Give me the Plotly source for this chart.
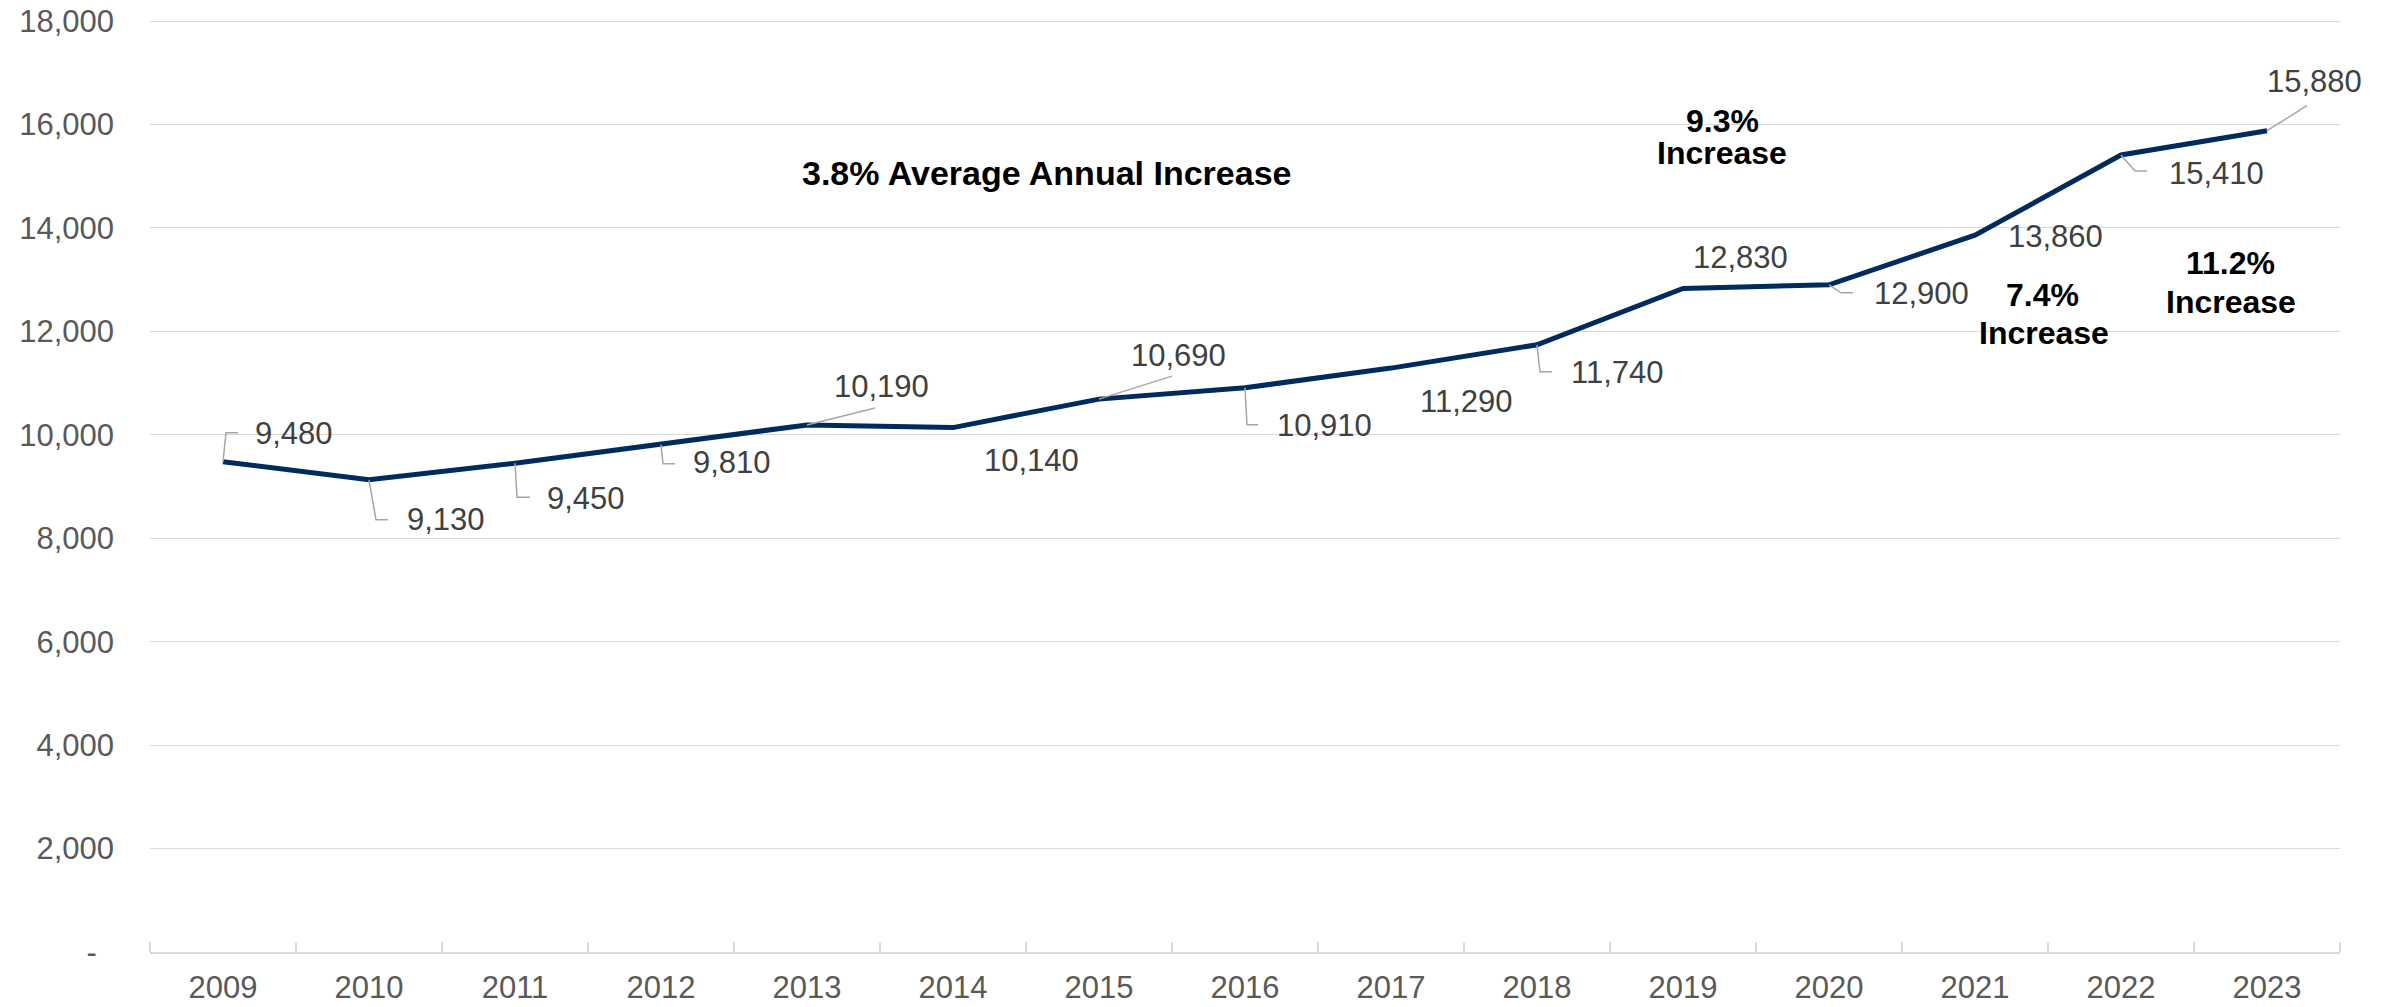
import plotly.graph_objects as go

# ---- data ----
years = ["2009", "2010", "2011", "2012", "2013", "2014", "2015", "2016",
         "2017", "2018", "2019", "2020", "2021", "2022", "2023"]
values = [9480, 9130, 9450, 9810, 10190, 10140, 10690, 10910,
          11290, 11740, 12830, 12900, 13860, 15410, 15880]
y_tick_vals = [0, 2000, 4000, 6000, 8000, 10000, 12000, 14000, 16000, 18000]
y_tick_text = ["-\u00a0\u00a0", "2,000", "4,000", "6,000", "8,000", "10,000",
               "12,000", "14,000", "16,000", "18,000"]

# ---- styling / label placement (pixel offsets from each point) ----
label_dx = [71, 77, 71, 71, 74, 78, 79, 79, 75, 80, 57, 92, 80, 95, 47]
label_dy = [28, -40, -35, -18, 38, -33, 44, -38, -33, -28, 31, -9, -1, -18, 49]
leaders = ["M0,0 L3,29 L15,29", "M0,0 L7,-40 L19,-40", "M0,0 L2,-34 L15,-34",
           "M0,0 L2,-19 L14,-19", "M0,0 L68,17", None, "M0,0 L73,23",
           "M0,0 L2,-37 L13,-37", None, "M0,0 L3,-27 L15,-27", None,
           "M0,0 L12,-8 L24,-8", None, "M0,0 L14,-16 L26,-16", "M0,0 L40,25"]

FONT = "Arial, Liberation Sans, Helvetica, sans-serif"
NAVY = "#002B5C"
GRID = "#D9D9D9"

xs = list(range(len(years)))

fig = go.Figure()
fig.add_trace(go.Scatter(x=xs, y=values, mode="lines",
                         line=dict(color=NAVY, width=5),
                         hoverinfo="skip", showlegend=False))

annotations = []
shapes = []
for i, v in enumerate(values):
    annotations.append(dict(x=xs[i], y=v, xref="x", yref="y", text=f"{v:,}",
                            showarrow=False, xanchor="center", yanchor="middle",
                            xshift=label_dx[i], yshift=label_dy[i],
                            font=dict(family=FONT, size=31, color="#404040")))
    if leaders[i]:
        shapes.append(dict(type="path", xref="x", yref="y",
                           xsizemode="pixel", ysizemode="pixel",
                           xanchor=xs[i], yanchor=v, path=leaders[i],
                           line=dict(color="#A6A6A6", width=1.5), layer="above"))

bold_notes = [
    ("3.8% Average Annual Increase", 5.64, 15072, 34),
    ("9.3%", 10.27, 16064, 32), ("Increase", 10.27, 15445, 32),
    ("7.4%", 12.46, 12695, 32), ("Increase", 12.47, 11960, 32),
    ("11.2%", 13.75, 13319, 32), ("Increase", 13.75, 12565, 32),
]
for txt, xi, yv, fs in bold_notes:
    annotations.append(dict(x=xi, y=yv, xref="x", yref="y", text=f"<b>{txt}</b>",
                            showarrow=False, xanchor="center", yanchor="middle",
                            font=dict(family=FONT, size=fs, color="#000000")))

n = len(years)
# margins compensate for the page's default 8px body margin;
# the y range is padded by ~2px so the top gridline is drawn
fig.update_layout(
    width=2397, height=1007,
    margin=dict(l=142, r=65, t=11, b=63, pad=0, autoexpand=False),
    paper_bgcolor="white", plot_bgcolor="white",
    showlegend=False,
    annotations=annotations, shapes=shapes,
    xaxis=dict(type="linear", range=[-0.5, n - 0.5], tickmode="array",
               tickvals=xs, ticktext=years, ticks="", tickangle=0,
               minor=dict(tick0=-0.5, dtick=1, ticks="inside", ticklen=10,
                          tickcolor=GRID, tickwidth=1.5, showgrid=False),
               showline=True, linecolor=GRID, linewidth=1.5,
               showgrid=False, zeroline=False, automargin=False,
               ticklabeloverflow="allow",
               tickfont=dict(family=FONT, size=31, color="#595959"),
               ticklabelstandoff=7),
    yaxis=dict(range=[0, 18040], tickvals=y_tick_vals, ticktext=y_tick_text,
               showgrid=True, gridcolor=GRID, gridwidth=1.3, zeroline=False,
               showline=False, ticks="", automargin=False,
               ticklabeloverflow="allow",
               tickfont=dict(family=FONT, size=31, color="#595959"),
               ticklabelstandoff=35),
)

fig.write_html("out.html")
